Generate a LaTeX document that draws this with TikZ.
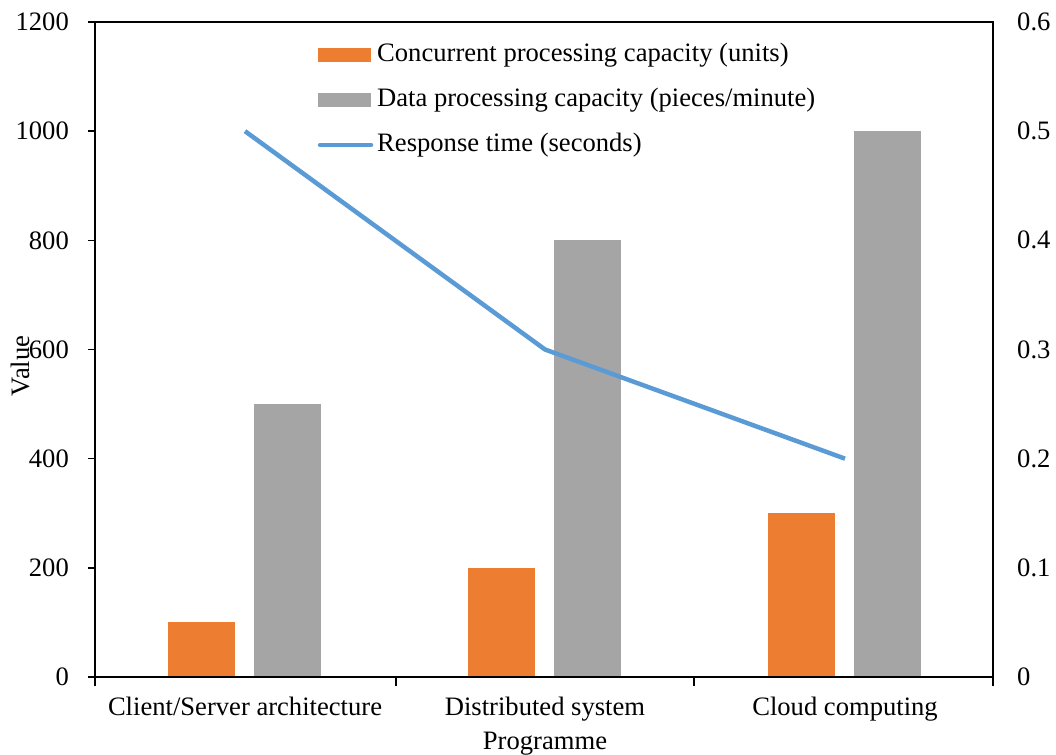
\documentclass[tikz,border=0pt]{standalone}
\usepackage{fontspec}
\setmainfont{Liberation Serif}

\definecolor{barorange}{HTML}{ED7D31}
\definecolor{bargrey}{HTML}{A5A5A5}
\definecolor{lineblue}{HTML}{5B9BD5}

\tikzset{
  txt/.style={font=\fontsize{26.6}{31}\selectfont, inner sep=0},
  axisline/.style={line width=1.5pt, black},
  respline/.style={line width=4.5pt, lineblue, line join=round},
}

\begin{document}
\begin{tikzpicture}[x=1pt, y=1pt]
        \useasboundingbox (0,0) rectangle (1056,754);

        \begin{scope}[shift={(0,77)}, y=0.54583pt]
          \foreach \cx/\a/\b in {245/100/500, 545/200/800, 845/300/1000} {
            \fill[barorange] (\cx-77,0) rectangle (\cx-10,\a);
            \fill[bargrey] (\cx+9,0) rectangle (\cx+76,\b);
          }

          \coordinate (r1) at (245,1000);
          \coordinate (r2) at (545,600);
          \coordinate (r3) at (845,400);
          \draw[respline] (r1) -- (r2) -- (r3);

          \draw[axisline] (95,0) rectangle (993,1200);
          \foreach \v in {0,200,...,1200} {
            \draw[axisline] (88,\v) -- (95,\v);
            \node[txt, anchor=east] (left\v) at (69,\v) {\v};
          }
          \foreach \v/\t in {0/0, 200/0.1, 400/0.2, 600/0.3, 800/0.4, 1000/0.5, 1200/0.6}
            \node[txt, anchor=west] (right\v) at (1017,\v) {\t};
          \foreach \x in {95,396,694,993}
            \draw[axisline] (\x,0) -- (\x,-16);
        \end{scope}

        \node[txt, anchor=base] (cs) at (245,38) {Client/Server architecture};
        \node[txt, anchor=base] (ds) at (545,38) {Distributed system};
        \node[txt, anchor=base] (cc) at (845,38) {Cloud computing};
        \node[txt, anchor=base] (xlab) at (545,5) {Programme};
        \node[txt, rotate=90] (ylab) at (20,388) {Value};

        % legend
        \fill[barorange] (318,692) rectangle (371,706);
        \node[txt, anchor=west] (leg1) at (377,699) {Concurrent processing capacity (units)};
        \fill[bargrey] (318,647) rectangle (371,661);
        \node[txt, anchor=west] (leg2) at (377,654) {Data processing capacity (pieces/minute)};
        \coordinate (l1) at (320,609);
        \coordinate (l2) at (371,609);
        \draw[respline, line cap=round] (l1) -- (l2);
        \node[txt, anchor=west] (leg3) at (377,609) {Response time (seconds)};
\end{tikzpicture}
\end{document}
